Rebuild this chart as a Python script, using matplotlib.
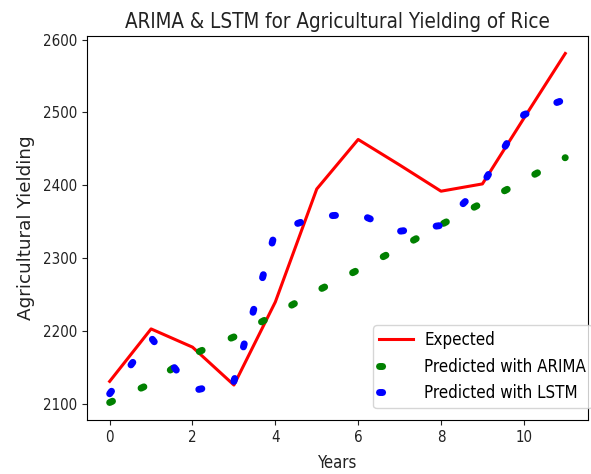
import matplotlib.pyplot as plt

plt.rcParams['font.family'] = 'DejaVu Sans'
plt.rcParams['font.stretch'] = 'condensed'

years = list(range(12))
expected = [2131, 2203, 2178, 2126, 2240, 2395, 2463, 2428, 2392, 2402, 2492, 2581]
arima = [2102, 2128, 2168, 2192, 2223, 2255, 2284, 2314, 2346, 2376, 2407, 2438]
lstm = [2114, 2191, 2118, 2131, 2337, 2357, 2361, 2337, 2345, 2401, 2497, 2518]

fig = plt.figure(figsize=(5.91, 4.74), dpi=100)
ax = fig.add_axes([0.147, 0.114, 0.848, 0.81])

ax.plot(years, expected, color='red', linewidth=2.2, label='Expected')
ax.plot(years, arima, color='green', linewidth=5, dashes=(0.45, 4.52),
        dash_capstyle='round', label='Predicted with ARIMA')
ax.plot(years, lstm, color='blue', linewidth=5, dashes=(0.45, 4.72),
        dash_capstyle='round', label='Predicted with LSTM')

ax.set_xticks([0, 2, 4, 6, 8, 10])
ax.set_yticks([2100, 2200, 2300, 2400, 2500, 2600])
ax.tick_params(labelsize=10.8, colors='#222222', labelcolor='#222222')
ax.set_xlabel('Years', fontsize=12, color='#222222', labelpad=7)
ax.set_ylabel('Agricultural Yielding', fontsize=13.2, stretch='normal',
              color='#222222', labelpad=6)
ax.set_title('ARIMA & LSTM for Agricultural Yielding of Rice', fontsize=14.8,
             color='#222222', pad=6)
ax.legend(loc='lower right', fontsize=12.2, bbox_to_anchor=(1.008, 0.031),
          borderaxespad=0, borderpad=0.35, handletextpad=0.65)

fig.savefig('out.png')
